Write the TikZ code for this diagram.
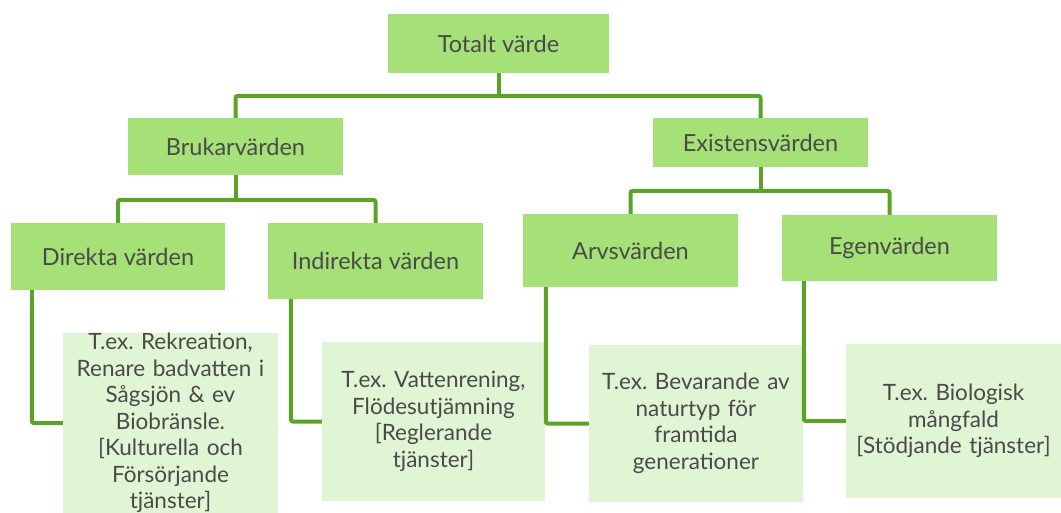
\documentclass[tikz,border=0pt]{standalone}
\usepackage{fontspec}
\setmainfont{Lato}
\begin{document}
\frenchspacing
\begin{tikzpicture}[x=1pt,y=-1pt,
  dark/.style={fill=darkfill,draw=none,inner sep=0pt,text=txt,font=\fontsize{23.5}{28}\selectfont},
  light/.style={fill=lightfill,draw=none,inner sep=0pt,text=txt,align=center,font=\fontsize{22.5}{26.5}\selectfont},
  conn/.style={draw=linegreen,line width=4pt,rounded corners=2pt}]
\definecolor{darkfill}{HTML}{A5E176}
\definecolor{lightfill}{HTML}{E0F5D3}
\definecolor{linegreen}{HTML}{5AA324}
\definecolor{txt}{HTML}{4A4A4A}
\useasboundingbox (0,0) rectangle (1061,513);
% level 0
\node[dark,minimum width=221pt,minimum height=59pt] (tot) at (498.5,43.5) {Totalt värde};
% level 1
\node[dark,minimum width=215pt,minimum height=57pt] (bruk) at (235.5,146.5) {Brukarvärden};
\node[dark,minimum width=215pt,minimum height=49pt] (exist) at (760.5,142.5) {Existensvärden};
% level 2
\node[dark,minimum width=214pt,minimum height=67pt] (direkt) at (118,256.5) {Direkta värden};
\node[dark,minimum width=215pt,minimum height=76pt] (indirekt) at (375.5,261) {Indirekta värden};
\node[dark,minimum width=215pt,minimum height=73pt] (arv) at (630.5,250.5) {Arvsvärden};
\node[dark,minimum width=215pt,minimum height=66pt] (egen) at (889.5,248) {Egenvärden};
% level 3
\node[light,minimum width=215pt,minimum height=180pt,text width=215pt] (ex1) at (170.5,423) {T.ex. Rekreation,\\Renare badvatten i\\Sågsjön \& ev\\Biobränsle.\\{[}Kulturella och\\Försörjande\\tjänster{]}};
\node[light,minimum width=223pt,minimum height=159pt,text width=223pt] (ex2) at (433.5,421.5) {T.ex. Vattenrening,\\Flödesutjämning\\{[}Reglerande\\tjänster{]}};
\node[light,minimum width=214pt,minimum height=157pt,text width=214pt] (ex3) at (696,423.5) {T.ex. Bevarande av\\naturtyp för\\framtida\\generationer};
\node[light,minimum width=215pt,minimum height=154pt,text width=215pt] (ex4) at (953.5,421) {T.ex. Biologisk\\mångfald\\{[}Stödjande tjänster{]}};
% junctions
\coordinate (j0) at (498.5,96);
\coordinate (j1) at (235.5,200);
\coordinate (j2) at (760.5,191);
% connectors
\draw[conn] (tot.south) -- (tot.south |- j0);
\draw[conn] (bruk.north) -- (bruk.north |- j0) -- (exist.north |- j0) -- (exist.north);
\draw[conn] (bruk.south) -- (j1);
\draw[conn] (direkt.north) -- (direkt.north |- j1) -- (indirekt.north |- j1) -- (indirekt.north);
\draw[conn] (exist.south) -- (j2);
\draw[conn] (arv.north) -- (arv.north |- j2) -- (egen.north |- j2) -- (egen.north);
\draw[conn] ([xshift=21pt]direkt.south west) |- (ex1.west);
\draw[conn] ([xshift=23pt]indirekt.south west) |- (ex2.west);
\draw[conn] ([xshift=23pt]arv.south west) |- (ex3.west);
\draw[conn] ([xshift=22pt]egen.south west) |- (ex4.west);
\end{tikzpicture}
\end{document}
